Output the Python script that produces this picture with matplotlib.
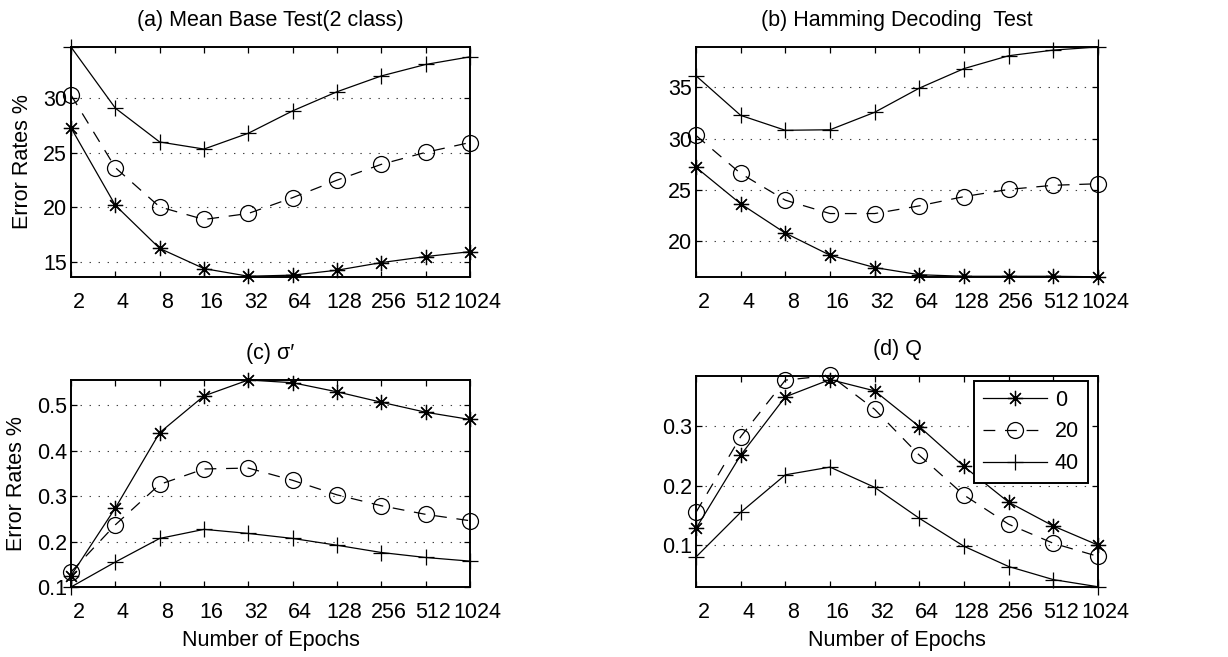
import matplotlib
matplotlib.use("Agg")
import matplotlib.pyplot as plt
import matplotlib.transforms as mtransforms

plt.rcParams['font.family'] = ['Liberation Sans', 'DejaVu Sans']
plt.rcParams['lines.scale_dashes'] = False

# Training epochs (shared x axis)
epochs = [2, 4, 8, 16, 32, 64, 128, 256, 512, 1024]
epoch_labels = ['2', '4', '8', '16', '32', '64', '128', '256', '512', '1024']
noise_levels = ['0', '20', '40']

# (a) Mean base test, 2 classes
mean_base_0 = [27.3, 20.2, 16.25, 14.4, 13.7, 13.8, 14.25, 14.95, 15.5, 15.95]
mean_base_20 = [30.3, 23.65, 20.05, 18.9, 19.45, 20.9, 22.5, 23.95, 25.05, 25.95]
mean_base_40 = [34.7, 29.1, 26.0, 25.35, 26.8, 28.85, 30.6, 32.05, 33.1, 33.8]

# (b) Hamming decoding test
hamming_0 = [27.2, 23.65, 20.8, 18.65, 17.45, 16.75, 16.6, 16.6, 16.6, 16.55]
hamming_20 = [30.3, 26.6, 24.0, 22.7, 22.7, 23.45, 24.35, 25.05, 25.45, 25.6]
hamming_40 = [36.1, 32.25, 30.8, 30.85, 32.55, 34.9, 36.8, 38.05, 38.6, 38.9]

# (c) sigma'
sigma_0 = [0.125, 0.274, 0.44, 0.521, 0.556, 0.55, 0.53, 0.507, 0.485, 0.469]
sigma_20 = [0.133, 0.237, 0.326, 0.36, 0.362, 0.335, 0.303, 0.279, 0.26, 0.246]
sigma_40 = [0.1, 0.155, 0.207, 0.227, 0.218, 0.207, 0.192, 0.176, 0.165, 0.157]

# (d) Q
q_0 = [0.128, 0.251, 0.349, 0.378, 0.359, 0.299, 0.232, 0.172, 0.132, 0.1]
q_20 = [0.155, 0.282, 0.377, 0.385, 0.328, 0.251, 0.184, 0.135, 0.103, 0.081]
q_40 = [0.08, 0.155, 0.218, 0.231, 0.197, 0.145, 0.098, 0.064, 0.042, 0.03]

panels = [
    dict(title='(a) Mean Base Test(2 class)', series=[mean_base_0, mean_base_20, mean_base_40],
         ylim=(13.63, 34.7), yticks=[15, 20, 25, 30], ylabels=['15', '20', '25', '30'],
         rect=(71, 47, 470, 277), ylabel=True, xlabel=False, legend=False),
    dict(title='(b) Hamming Decoding  Test', series=[hamming_0, hamming_20, hamming_40],
         ylim=(16.53, 38.9), yticks=[20, 25, 30, 35], ylabels=['20', '25', '30', '35'],
         rect=(696, 47, 1098, 277), ylabel=False, xlabel=False, legend=False),
    dict(title='(c) σ′', series=[sigma_0, sigma_20, sigma_40],
         ylim=(0.1, 0.556), yticks=[0.1, 0.2, 0.3, 0.4, 0.5],
         ylabels=['0.1', '0.2', '0.3', '0.4', '0.5'],
         rect=(71, 380, 470, 587), ylabel=True, xlabel=True, legend=False),
    dict(title='(d) Q', series=[q_0, q_20, q_40],
         ylim=(0.0296, 0.384), yticks=[0.1, 0.2, 0.3], ylabels=['0.1', '0.2', '0.3'],
         rect=(696, 376, 1098, 587), ylabel=False, xlabel=True, legend=True),
]

W, H = 1228, 657
fig = plt.figure(figsize=(W / 100, H / 100), dpi=100)

FS = 15.5
styles = [
    dict(marker=(8, 2, 0), linestyle='-', markersize=11, markeredgewidth=0.9),
    dict(marker='o', linestyle=(0, (8.5, 7)), markersize=11.5, markeredgewidth=0.9,
         markerfacecolor='none'),
    dict(marker='+', linestyle='-', markersize=12, markeredgewidth=0.9),
]

label_shift = mtransforms.ScaledTranslation(7.5 / 100, 0, fig.dpi_scale_trans)

for p in panels:
    x0, y0, x1, y1 = p['rect']
    ax = fig.add_axes([x0 / W, 1 - y1 / H, (x1 - x0) / W, (y1 - y0) / H])
    for vals, st, name in zip(p['series'], styles, noise_levels):
        ax.plot(epochs, vals, color='black', linewidth=0.9, clip_on=False,
                markeredgecolor='black', label=name, **st)
    ax.set_xscale('log', base=2)
    ax.set_xlim(epochs[0], epochs[-1])
    ax.set_ylim(*p['ylim'])
    ax.set_xticks(epochs)
    ax.set_xticklabels(epoch_labels)
    ax.minorticks_off()
    ax.set_yticks(p['yticks'])
    ax.set_yticklabels(p['ylabels'])
    ax.tick_params(direction='in', top=True, right=True, length=4.5, width=0.9,
                   labelsize=FS, colors='black')
    ax.tick_params(axis='x', pad=11)
    ax.tick_params(axis='y', pad=3)
    for lab in ax.get_xticklabels():
        lab.set_transform(lab.get_transform() + label_shift)
    ax.grid(axis='y', color='0.25', linewidth=0.8, linestyle=(0, (1, 5.5)))
    ax.set_axisbelow(True)
    for sp in ax.spines.values():
        sp.set_linewidth(1.4)
    ax.set_title(p['title'], fontsize=FS, pad=15)
    if p['ylabel']:
        ax.set_ylabel('Error Rates %', fontsize=FS, labelpad=7)
    if p['xlabel']:
        ax.set_xlabel('Number of Epochs', fontsize=FS, labelpad=5)
    if p['legend']:
        leg = ax.legend(loc='upper right', bbox_to_anchor=(1 - 10.5 / 402, 1 - 5 / 211),
                        borderaxespad=0, fontsize=FS, fancybox=False, framealpha=1,
                        edgecolor='black', handlelength=3.0, handletextpad=0.35,
                        labelspacing=0.5, borderpad=0.4)
        leg.get_frame().set_linewidth(1.4)

fig.savefig('out.png', dpi=100)
